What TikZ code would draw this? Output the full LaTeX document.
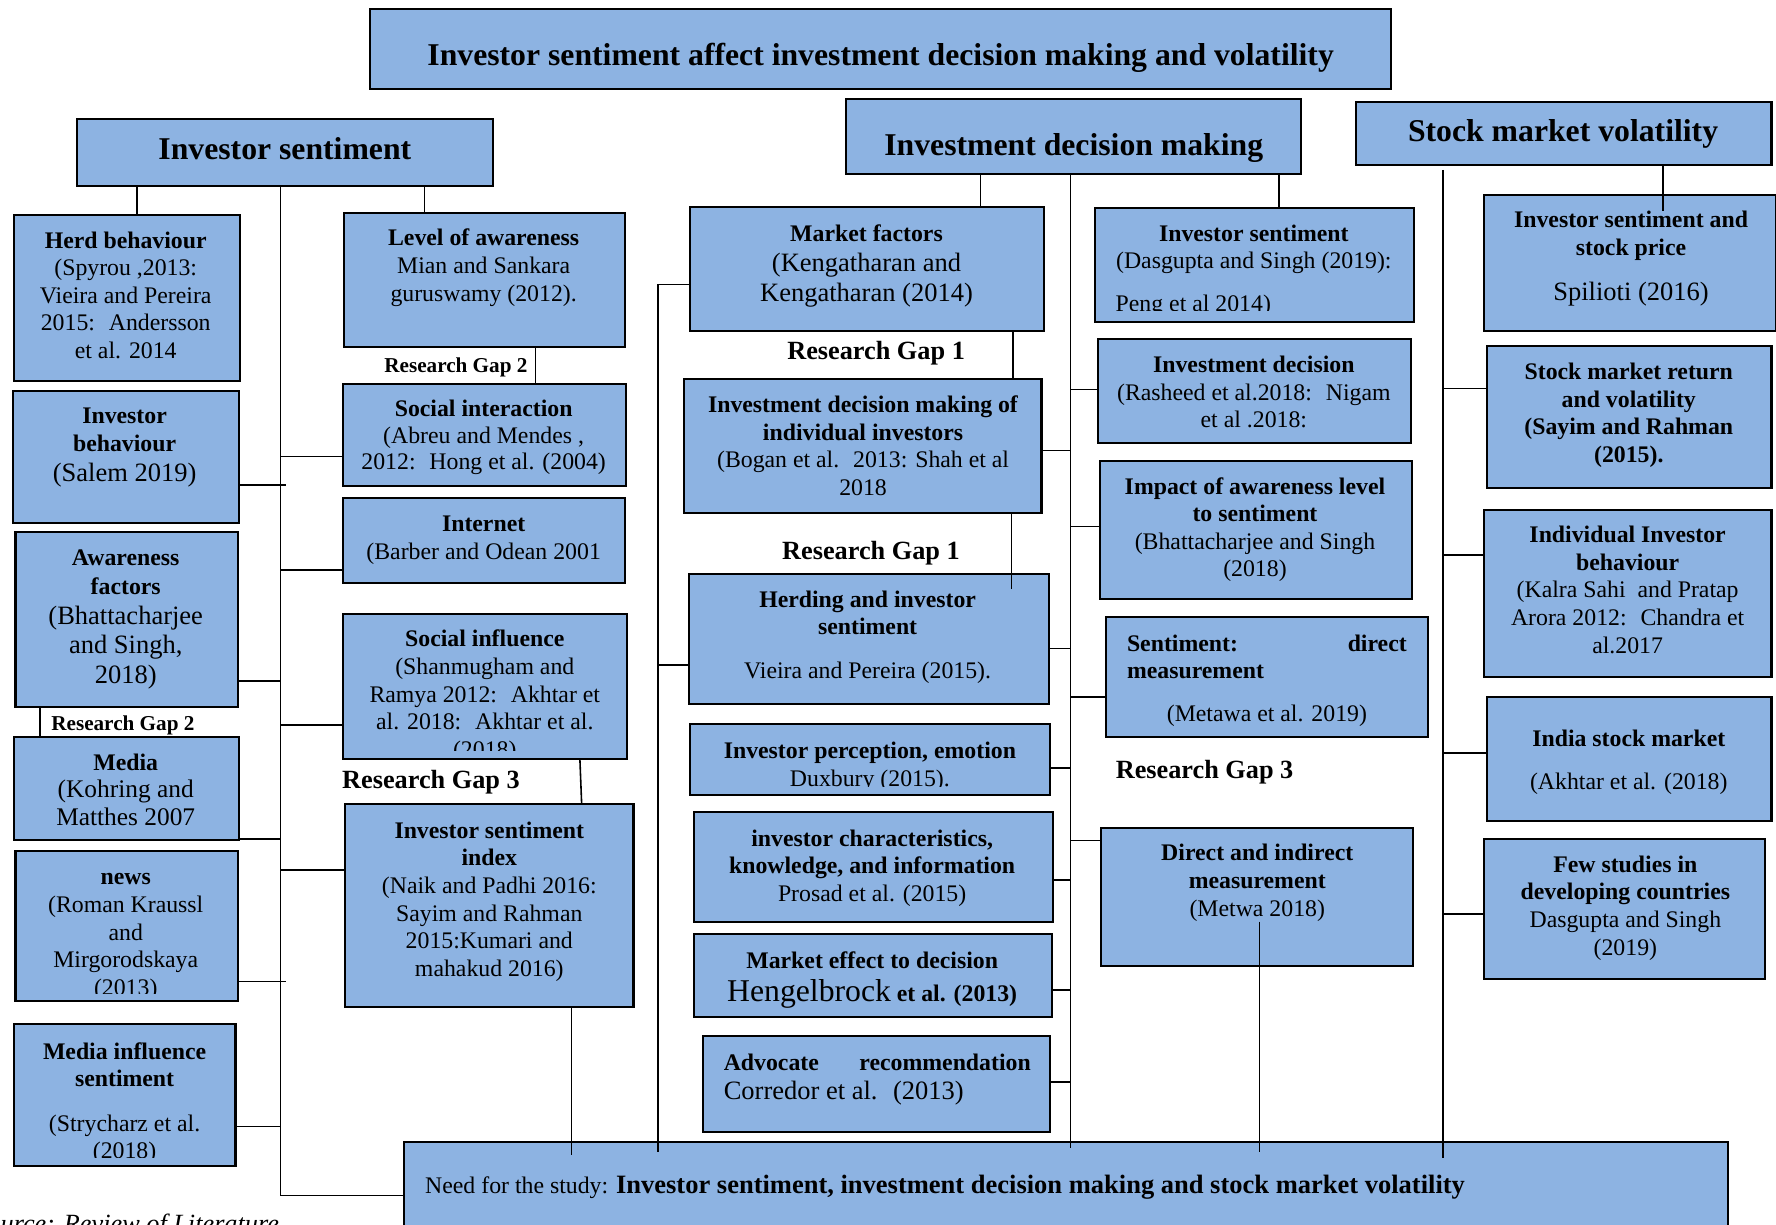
\documentclass[tikz,border=0pt]{standalone}
\usepackage{fontspec}
\setmainfont{Liberation Serif}
\usetikzlibrary{fit}
\definecolor{boxblue}{HTML}{8DB3E2}
\newcommand\szN{\fontsize{10.5}{12.2}\selectfont}
\newcommand\szL{\fontsize{11.7}{13.2}\selectfont}
\newcommand\szM{\fontsize{11.2}{12.6}\selectfont}
\newcommand\szH{\fontsize{14}{16}\selectfont}
\newcommand\szT{\fontsize{14}{16}\selectfont}
\newcommand\szS{\fontsize{9.35}{11}\selectfont}
\newcommand\szG{\fontsize{11.6}{13}\selectfont}
\newcommand\mkbox[5]{\node[bx, fit={(#2,#3) (#4,#5)}] (#1) {};}
\begin{document}
\begin{tikzpicture}[x=0.5pt,y=-0.5pt,
  bx/.style={draw=black, line width=0.9pt, fill=boxblue, inner sep=0pt},
  tx/.style={align=center, inner sep=0pt, anchor=north, font=\szN},
  hd/.style={inner sep=0pt, anchor=base, font=\szT\bfseries},
  gp/.style={inner sep=0pt, anchor=base, font=\szG\bfseries},
  gps/.style={inner sep=0pt, anchor=base, font=\szS\bfseries},
  ln/.style={line width=0.7pt, black},
]
\useasboundingbox (0,0) rectangle (1568,1081);
\clip (0,0) rectangle (1568,1081);
\fill[white] (0,0) rectangle (1568,1081);

% ---------- boxes ----------
\mkbox{title}{327}{8}{1228}{79}
\mkbox{hIS}{68}{105}{435}{164}
\mkbox{hIDM}{747}{87}{1149}{154}
\mkbox{hSMV}{1197}{90}{1564}{146}
\mkbox{herd}{12.6}{190}{211.5}{336}
\mkbox{ib}{11.5}{345}{210.8}{462}
\mkbox{aw}{13.7}{470}{210}{624}
\mkbox{media}{12.6}{650.4}{210.8}{741.6}
\mkbox{news}{13.7}{751.3}{210}{883.7}
\mkbox{mis}{12.6}{904}{207.9}{1029.4}
\mkbox{loa}{303.4}{188}{552}{306}
\mkbox{si}{302.7}{339.3}{553}{428.8}
\mkbox{inet}{302.8}{440}{552}{515}
\mkbox{sinf}{302.7}{542.4}{553.8}{670.1}
\mkbox{isi}{304.5}{710.1}{559.3}{888.7}
\mkbox{mf}{609.2}{183}{922}{292.2}
\mkbox{idm}{604}{334.9}{919.5}{453.2}
\mkbox{herding}{608.4}{506.7}{925.9}{621.8}
\mkbox{ipe}{609.6}{639.5}{927.2}{701.9}
\mkbox{ick}{612.6}{717.2}{929.3}{814.3}
\mkbox{med}{612.9}{824.9}{928.9}{897.6}
\mkbox{adv}{621}{914.6}{927}{999.4}
\mkbox{dis}{966.5}{183.9}{1248.2}{284}
\mkbox{did}{969.1}{299.6}{1246}{391.4}
\mkbox{imp}{971.2}{406.7}{1246.9}{528.8}
\mkbox{sdm}{976.8}{545}{1261}{650.4}
\mkbox{dim}{972.2}{730.7}{1247.5}{852.8}
\mkbox{iss}{1310}{172}{1568}{292}
\mkbox{smrv}{1313}{305.5}{1564}{431}
\mkbox{iib}{1310}{450}{1564}{597.6}
\mkbox{india}{1313}{615}{1564}{725}
\mkbox{few}{1310}{741}{1558.5}{864}
\mkbox{need}{356.7}{1008}{1525.2}{1100}

% ---------- connectors ----------
\coordinate (spA) at (247.6,164);
\coordinate (spAb) at (247.6,1055.6);
\draw[ln] (hIS.south -| spA) -- (spAb) -- (spAb -| need.west);
\draw[ln] (hIS.south -| 120.7,0) -- (herd.north -| 120.7,0);
\draw[ln] (ib.east |- 0,428.2) -- ++(40.4,0);
\draw[ln] (aw.east |- 0,601.2) -- (spA |- 0,601.2);
\draw[ln] (media.east |- 0,740.7) -- (spA |- 0,740.7);
\draw[ln] (news.east |- 0,866.7) -- ++(41.2,0);
\draw[ln] (mis.east |- 0,994.7) -- (spA |- 0,994.7);
\draw[ln] (aw.south -| 35.3,0) -- (media.north -| 35.3,0);
\draw[ln] (hIS.south -| 374.8,0) -- (loa.north -| 374.8,0);
\draw[ln] (loa.south -| 472.8,0) -- (si.north -| 472.8,0);
\draw[ln] (spA |- 0,403.2) -- (si.west |- 0,403.2);
\draw[ln] (spA |- 0,503.2) -- (inet.west |- 0,503.2);
\draw[ln] (spA |- 0,640) -- (sinf.west |- 0,640);
\draw[ln] (spA |- 0,768.1) -- (isi.west |- 0,768.1);
\draw[ln] (sinf.south -| 512,0) -- (isi.north -| 513.5,0);
\draw[ln] (isi.south -| 504.5,0) -- (need.north -| 504.5,0) -- ++(0,13);

\coordinate (spC1) at (581,251);
\draw[ln] (mf.west |- spC1) -- (spC1) -- (need.north -| spC1) -- ++(0,10);
\draw[ln] (spC1 |- 0,587.1) -- (herding.west |- 0,587.1);
\draw[ln] (hIDM.south -| 865.6,0) -- (mf.north -| 865.6,0);
\draw[ln] (mf.south -| 894.2,0) -- (idm.north -| 894.2,0);
\draw[ln] (idm.south -| 893,0) -- (herding.north -| 893,0) -- ++(0,14.2);
\coordinate (spC2) at (945,153);
\draw[ln] (hIDM.south -| spC2) -- (need.north -| spC2) -- ++(0,6);
\draw[ln] (idm.east |- 0,397.9) -- (spC2 |- 0,397.9);
\draw[ln] (herding.east |- 0,572.4) -- (spC2 |- 0,572.4);
\draw[ln] (ipe.east |- 0,678.3) -- (spC2 |- 0,678.3);
\draw[ln] (ick.east |- 0,776.9) -- (spC2 |- 0,776.9);
\draw[ln] (med.east |- 0,874) -- (spC2 |- 0,874);
\draw[ln] (adv.east |- 0,955.5) -- (spC2 |- 0,955.5);
\draw[ln] (hIDM.south -| 1129,0) -- (dis.north -| 1129,0);
\draw[ln] (spC2 |- 0,344) -- (did.west |- 0,344);
\draw[ln] (spC2 |- 0,465) -- (imp.west |- 0,465);
\draw[ln] (spC2 |- 0,615.5) -- (sdm.west |- 0,615.5);
\draw[ln] (spC2 |- 0,742) -- (dim.west |- 0,742);
\coordinate (dimline) at (1112,813.7);
\draw[ln] (dimline) -- (need.north -| dimline) -- ++(0,10);

\coordinate (spE) at (1274,150);
\draw[ln] (spE) -- (need.north -| spE) -- ++(0,15);
\draw[ln] (hSMV.south -| 1468,0) -- (iss.north -| 1468,0) -- ++(0,15);
\draw[ln] (spE |- 0,343) -- (smrv.west |- 0,343);
\draw[ln] (spE |- 0,490) -- (iib.west |- 0,490);
\draw[ln] (spE |- 0,665) -- (india.west |- 0,665);
\draw[ln] (spE |- 0,807) -- (few.west |- 0,807);

% ---------- headers ----------
\node[hd] (title-t) at (777.5,58) {Investor sentiment affect investment decision making and volatility};
\node[hd] (hIS-t) at (251.5,141) {Investor sentiment};
\node[hd] (hIDM-t) at (948,137) {Investment decision making};
\node[hd] (hSMV-t) at (1380,125) {Stock market volatility};

% ---------- research gap labels ----------
\node[gps] (rg2a) at (402.5,329) {Research Gap 2};
\node[gps] (rg2b) at (108.5,645) {Research Gap 2};
\node[gp] (rg3a) at (380.5,696) {Research Gap 3};
\node[gp] (rg1a) at (773.5,317) {Research Gap 1};
\node[gp] (rg1b) at (769,494.4) {Research Gap 1};
\node[gp] (rg3b) at (1063.5,687) {Research Gap 3};

% ---------- box texts ----------
\node[tx] (herd-t) at (111,204) {\textbf{Herd behaviour}\\(Spyrou ,2013:\\Vieira and Pereira\\2015:~ Andersson\\et al. 2014};
\node[tx] (ib-t) at (110,360) {\textbf{Investor}\\\textbf{behaviour}\\[1pt]{\szL(Salem 2019)}};
\node[tx, font=\fontsize{10.5}{13}\selectfont] (aw-t) at (111,485) {\textbf{Awareness}\\\textbf{factors}\\{\szL(Bhattacharjee}\\{\szL and Singh,}\\{\szL 2018)}};
\node[tx] (media-t) at (111,665) {\textbf{Media}\\{\szM(Kohring and}\\{\szM Matthes 2007}};
\begin{scope}
\clip (news.north west) rectangle ([yshift=3.8pt]news.south east);
\node[tx] (news-t) at (111,771) {\textbf{news}\\(Roman Kraussl\\and\\Mirgorodskaya\\(2013)};
\end{scope}
\begin{scope}
\clip (mis.north west) rectangle ([yshift=4.2pt]mis.south east);
\node[tx] (mis-t) at (110,920) {\textbf{Media influence}\\\textbf{sentiment}\\[7.3pt](Strycharz et al.\\(2018)};
\end{scope}
\node[tx] (loa-t) at (427,202) {\textbf{Level of awareness}\\Mian and Sankara\\guruswamy (2012).};
\node[tx, font=\fontsize{10.5}{11.6}\selectfont] (si-t) at (427,353) {\textbf{Social interaction}\\(Abreu and Mendes ,\\2012:~ Hong et al. (2004)};
\node[tx] (inet-t) at (427,455) {\textbf{Internet}\\(Barber and Odean 2001};
\begin{scope}
\clip (sinf.north west) rectangle ([yshift=4pt]sinf.south east);
\node[tx] (sinf-t) at (428,556) {\textbf{Social influence}\\(Shanmugham and\\Ramya 2012:~ Akhtar et\\al. 2018:~ Akhtar et al.\\(2018)};
\end{scope}
\node[tx] (isi-t) at (432,725) {\textbf{Investor sentiment}\\\textbf{index}\\(Naik and Padhi 2016:\\Sayim and Rahman\\2015:Kumari and\\mahakud 2016)};
\node[tx, font=\fontsize{10.5}{13.2}\selectfont] (mf-t) at (765,198) {\textbf{Market factors}\\{\szL(Kengatharan and}\\{\szL Kengatharan (2014)}};
\node[tx] (idm-t) at (762,349) {\textbf{Investment decision making of}\\\textbf{individual investors}\\(Bogan et al.~ 2013: Shah et al\\2018};
\node[tx] (herding-t) at (766,521) {\textbf{Herding and investor}\\\textbf{sentiment}\\[7.3pt]Vieira and Pereira (2015).};
\begin{scope}
\clip (ipe.north west) rectangle ([yshift=4pt]ipe.south east);
\node[tx] (ipe-t) at (768,655) {\textbf{Investor perception, emotion}\\Duxbury (2015).};
\end{scope}
\node[tx] (ick-t) at (770,732) {\textbf{investor characteristics,}\\\textbf{knowledge, and information}\\Prosad et al. (2015)};
\node[tx] (med-t) at (770,840) {\textbf{Market effect to decision}\\[2.3pt]{\szH Hengelbrock} \textbf{et al. (2013)}};
\node[tx, align=left] (adv-t) at (774.5,930) {\makebox[135.5pt][s]{\textbf{Advocate}\hfill\textbf{recommendation}}\\[0.8pt]{\szL Corredor et al.~ (2013)}};
\begin{scope}
\clip (dis.north west) rectangle ([yshift=5.2pt]dis.south east);
\node[tx] (dis-t) at (1107,198) {\textbf{Investor sentiment}\\(Dasgupta and Singh (2019):\\[6.8pt]\makebox[122pt][l]{Peng et al 2014)}};
\end{scope}
\node[tx] (did-t) at (1107,314) {\textbf{Investment decision}\\(Rasheed et al.2018:~ Nigam\\et al .2018:};
\node[tx] (imp-t) at (1108,421) {\textbf{Impact of awareness level}\\\textbf{to sentiment}\\(Bhattacharjee and Singh\\(2018)};
\node[tx, align=left] (sdm-t) at (1118.5,560) {\makebox[123.5pt][s]{\textbf{Sentiment:}\hfill\textbf{direct}}\\\textbf{measurement}\\[6.8pt]\makebox[123.5pt]{(Metawa et al. 2019)}};
\node[tx] (dim-t) at (1110,745) {\textbf{Direct and indirect}\\\textbf{measurement}\\(Metwa 2018)};
\node[tx] (iss-t) at (1440,186) {\textbf{Investor sentiment and}\\\textbf{stock price}\\[7.8pt]{\szL Spilioti (2016)}};
\node[tx] (smrv-t) at (1438,320) {\textbf{Stock market return}\\\textbf{and volatility}\\\textbf{(Sayim and Rahman}\\\textbf{(2015).}};
\node[tx] (iib-t) at (1437,464) {\textbf{Individual Investor}\\\textbf{behaviour}\\(Kalra Sahi~ and Pratap\\Arora 2012:~ Chandra et\\al.2017};
\node[tx] (india-t) at (1438,644) {\textbf{India stock market}\\[6.8pt](Akhtar et al. (2018)};
\node[tx] (few-t) at (1435,755) {\textbf{Few studies in}\\\textbf{developing countries}\\Dasgupta and Singh\\(2019)};

\node[anchor=base west, inner sep=0pt, font=\szN] (need-t) at (375,1054) {Need for the study: {\szL\bfseries Investor sentiment, investment decision making and stock market volatility}};

\node[anchor=base west, inner sep=0pt, font=\fontsize{11.6}{13}\selectfont\itshape] (src) at (-23,1088) {Source: Review of Literature};
\end{tikzpicture}
\end{document}
